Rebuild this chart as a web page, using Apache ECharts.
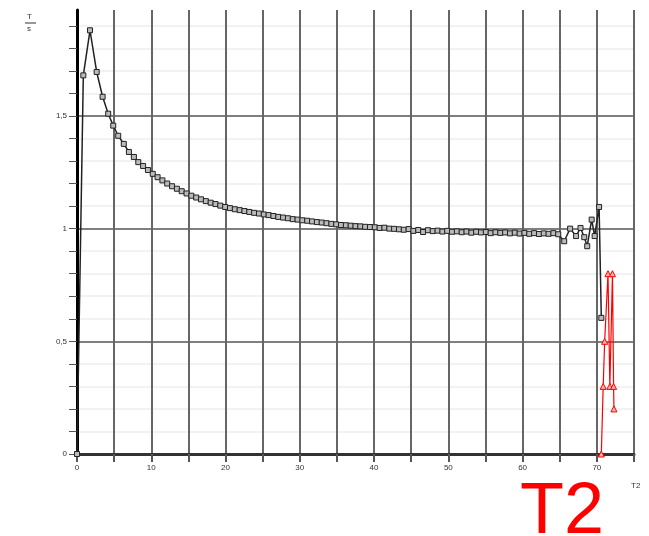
<!DOCTYPE html>
<html>
<head>
<meta charset="utf-8">
<script src="https://cdn.jsdelivr.net/npm/echarts@6/dist/echarts.min.js"></script>
<style>
  html, body { margin: 0; padding: 0; background: #fff; }
  #main { width: 649px; height: 536px; }
</style>
</head>
<body>
<div id="main"></div>
<script>
// 黑色曲线 (T/s 对 T2)
const blackX = [
  0, 0.85, 1.75, 2.65, 3.45, 4.2, 4.88, 5.55, 6.3, 6.99, 7.66, 8.25, 8.9, 9.55,
  10.2, 10.85, 11.5, 12.15, 12.8, 13.45, 14.1, 14.75, 15.4, 16.05, 16.7, 17.35,
  18.0, 18.65, 19.3, 19.95, 20.6, 21.25, 21.9, 22.55, 23.2, 23.85, 24.5, 25.15,
  25.8, 26.45, 27.1, 27.75, 28.4, 29.05, 29.7, 30.35, 31.0, 31.65, 32.3, 32.95,
  33.6, 34.25, 34.9, 35.55, 36.2, 36.85, 37.5, 38.15, 38.8, 39.45, 40.1, 40.75,
  41.4, 42.05, 42.7, 43.35, 44.0, 44.65, 45.3, 45.95, 46.6, 47.25, 47.9, 48.55,
  49.2, 49.85, 50.5, 51.15, 51.8, 52.45, 53.1, 53.75, 54.4, 55.05, 55.7, 56.35,
  57.0, 57.65, 58.3, 58.95, 59.6, 60.25, 60.9, 61.55, 62.2, 62.85, 63.5, 64.15,
  64.8, 65.6, 66.4, 67.2, 67.8, 68.3, 68.7, 69.3, 69.7, 70.3, 70.6
];
const blackY = [
  0, 1.68, 1.88, 1.695, 1.585, 1.51, 1.457, 1.412, 1.376, 1.34, 1.318, 1.295, 1.278, 1.26,
  1.243, 1.228, 1.214, 1.2, 1.188, 1.177, 1.166, 1.156, 1.146, 1.138, 1.13, 1.122,
  1.115, 1.109, 1.102, 1.096, 1.091, 1.086, 1.082, 1.078, 1.074, 1.07, 1.067, 1.063,
  1.06, 1.056, 1.052, 1.049, 1.046, 1.042, 1.04, 1.037, 1.035, 1.032, 1.029, 1.027,
  1.024, 1.021, 1.019, 1.016, 1.015, 1.013, 1.011, 1.01, 1.008, 1.007, 1.006, 1.003,
  1.004, 1.0, 0.999, 0.997, 0.995, 0.998, 0.99, 0.994, 0.985, 0.993, 0.989, 0.991,
  0.987, 0.99, 0.986, 0.988, 0.984, 0.987, 0.982, 0.986, 0.983, 0.985, 0.98, 0.984,
  0.981, 0.983, 0.979, 0.982, 0.978, 0.981, 0.977, 0.98, 0.976, 0.979, 0.977, 0.98,
  0.975, 0.944, 1.0, 0.967, 1.003, 0.962, 0.922, 1.04, 0.967, 1.096, 0.604
];
// 红色曲线
const redX = [70.6, 70.85, 71.05, 71.5, 71.75, 72.1, 72.25, 72.3];
const redY = [0, 0.3, 0.5, 0.8, 0.3, 0.8, 0.3, 0.2];

const blackData = blackX.map((x, i) => [x, blackY[i]]);
const redData = redX.map((x, i) => [x, redY[i]]);

const isMultiple = (v, step) => Math.abs(v / step - Math.round(v / step)) < 1e-6;

const option = {
  animation: false,
  grid: { left: 77, right: 15, top: 10, bottom: 82 },
  xAxis: {
    type: 'value',
    min: 0,
    max: 75,
    interval: 5,
    axisLine: { lineStyle: { color: '#333', width: 3 } },
    axisTick: { length: 8, lineStyle: { color: '#555', width: 2 } },
    axisLabel: {
      fontSize: 8,
      color: '#333',
      margin: 10,
      formatter: v => (isMultiple(v, 10) ? String(v) : '')
    },
    splitLine: { show: true, lineStyle: { color: '#666', width: 2 } }
  },
  yAxis: {
    type: 'value',
    min: 0,
    max: 1.97,
    interval: 0.1,
    axisLine: { show: true, lineStyle: { color: '#000', width: 3 } },
    axisTick: { show: true, length: 8, lineStyle: { color: '#555', width: 1 } },
    axisLabel: {
      fontSize: 8,
      color: '#333',
      margin: 10,
      showMaxLabel: false,
      formatter: v => (isMultiple(v, 0.5) ? String(Math.round(v * 10) / 10).replace('.', ',') : '')
    },
    splitLine: {
      show: true,
      showMaxLine: false,
      lineStyle: { color: ['#555', '#eee', '#eee', '#eee', '#eee'], width: 1.5 }
    }
  },
  graphic: [
    { type: 'text', left: 27, top: 13, style: { text: 'T', fontSize: 8, fill: '#333' } },
    { type: 'line', shape: { x1: 25, y1: 23, x2: 36, y2: 23 }, style: { stroke: '#333', lineWidth: 1 } },
    { type: 'text', left: 27, top: 25, style: { text: 's', fontSize: 8, fill: '#333' } },
    { type: 'text', left: 631, top: 482, style: { text: 'T2', fontSize: 8, fill: '#333' } },
    {
      type: 'text', left: 520, top: 477,
      style: { text: 'T2', fontSize: 72, fill: '#ff0000', fontFamily: 'Liberation Sans' }
    }
  ],
  series: [
    {
      type: 'line',
      data: blackData,
      symbol: 'rect',
      symbolSize: 5,
      showAllSymbol: true,
      lineStyle: { color: '#222', width: 1.5 },
      itemStyle: { color: '#bbb', borderColor: '#222', borderWidth: 1 },
      z: 3
    },
    {
      type: 'line',
      data: redData,
      symbol: 'triangle',
      symbolSize: 6,
      showAllSymbol: true,
      lineStyle: { color: '#ff0000', width: 1.2 },
      itemStyle: { color: '#ffb0b0', borderColor: '#ff0000', borderWidth: 1 },
      z: 4
    }
  ]
};

const chart = echarts.init(document.getElementById('main'));
chart.setOption(option);
</script>
</body>
</html>
